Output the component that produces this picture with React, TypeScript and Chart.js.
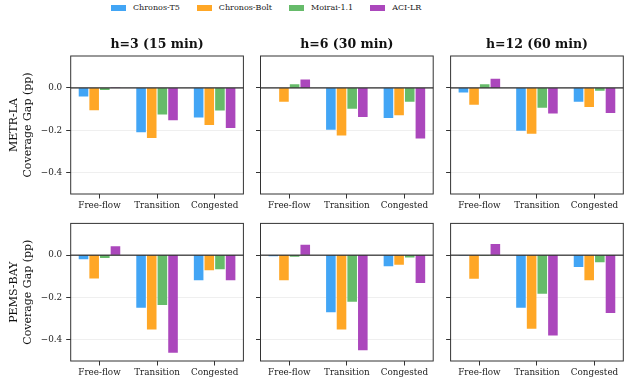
import React, { useEffect, useRef } from 'react';
import { Chart, registerables } from 'chart.js';

Chart.register(...registerables);

// ---- data ----
const categories = ['Free-flow', 'Transition', 'Congested'];
const models = ['Chronos-T5', 'Chronos-Bolt', 'Moirai-1.1', 'ACI-LR'];
const modelColors = ['#42A5F5', '#FFA726', '#66BB6A', '#AB47BC'];
const horizons = ['h=3 (15 min)', 'h=6 (30 min)', 'h=12 (60 min)'];
const networks = ['METR-LA', 'PEMS-BAY'];
const yTickValues = [0, -0.2, -0.4];
const yMin = -0.5;
const yMax = 0.15;

// each panel: one row per model (Chronos-T5, Chronos-Bolt, Moirai-1.1, ACI-LR), values per category
const metrLaH3 = [
  [-0.041, -0.209, -0.140],
  [-0.105, -0.236, -0.175],
  [-0.010, -0.126, -0.107],
  [0.003, -0.153, -0.189],
];
const metrLaH6 = [
  [0.0, -0.197, -0.142],
  [-0.066, -0.224, -0.129],
  [0.017, -0.099, -0.066],
  [0.039, -0.137, -0.239],
];
const metrLaH12 = [
  [-0.022, -0.202, -0.066],
  [-0.080, -0.216, -0.090],
  [0.017, -0.094, -0.014],
  [0.043, -0.121, -0.118],
];
const pemsBayH3 = [
  [-0.019, -0.249, -0.119],
  [-0.110, -0.351, -0.071],
  [-0.014, -0.235, -0.067],
  [0.042, -0.461, -0.118],
];
const pemsBayH6 = [
  [-0.005, -0.270, -0.052],
  [-0.118, -0.351, -0.045],
  [-0.008, -0.220, -0.011],
  [0.049, -0.449, -0.132],
];
const pemsBayH12 = [
  [-0.001, -0.248, -0.056],
  [-0.111, -0.348, -0.118],
  [-0.001, -0.182, -0.033],
  [0.053, -0.380, -0.273],
];
const panelData = [
  [metrLaH3, metrLaH6, metrLaH12],
  [pemsBayH3, pemsBayH6, pemsBayH12],
];

// ---- layout ----
const FONT = "'DejaVu Serif', serif";
const plotLeft = [70.7, 260.5, 450.6];
const plotW = 172.7;
const canvasLeft = [0, 248, 438];
const canvasW = [246, 188, 186];
const plotTop = [56, 223.4];
const canvasTop = [30, 212];
const canvasH = [184, 169];
const xAxisH = 20;

const fmt = (v: number) => {
  const s = Math.abs(v).toFixed(1);
  return v < -1e-9 ? '\u2212' + s : s;
};

function makeFramePlugin(row: number) {
  return {
    id: 'frame' + row,
    afterDatasetsDraw(chart: any) {
      const { ctx, chartArea } = chart;
      const y0 = chart.scales.y.getPixelForValue(0);
      ctx.save();
      ctx.beginPath();
      ctx.strokeStyle = row === 0 ? 'rgba(0,0,0,0.6)' : '#000';
      ctx.lineWidth = row === 0 ? 1.6 : 1;
      ctx.moveTo(chartArea.left, y0);
      ctx.lineTo(chartArea.right, y0);
      ctx.stroke();
      ctx.strokeStyle = '#333';
      ctx.lineWidth = 1;
      ctx.strokeRect(chartArea.left, chartArea.top, chartArea.right - chartArea.left, chartArea.bottom - chartArea.top);
      ctx.restore();
    },
  };
}

function Panel({ row, col }: { row: number; col: number }) {
  const ref = useRef<HTMLCanvasElement>(null);
  const w = canvasW[col];
  const h = canvasH[row];
  useEffect(() => {
    const values = panelData[row][col];
    const axisW = plotLeft[col] - canvasLeft[col];
    const padRight = w - axisW - plotW;
    const padTop = row === 0 ? 0 : plotTop[row] - canvasTop[row];
    const chart = new Chart(ref.current as HTMLCanvasElement, {
      type: 'bar',
      data: {
        labels: categories,
        datasets: models.map((m, i) => ({
          label: m,
          data: values[i],
          backgroundColor: modelColors[i],
          borderWidth: 0,
          barPercentage: 0.9,
          categoryPercentage: 0.74,
        })),
      },
      options: {
        responsive: false,
        animation: false,
        devicePixelRatio: 1,
        layout: { padding: { left: 0, right: padRight, top: padTop, bottom: 0 } },
        plugins: {
          legend: { display: false },
          tooltip: { enabled: false },
          title: {
            display: row === 0,
            text: horizons[col],
            fullSize: false,
            color: '#111',
            font: { family: FONT, size: 12.5, weight: 'bold', lineHeight: 1.2 },
            padding: { top: 6.8, bottom: 4.2 },
          },
        },
        scales: {
          x: {
            offset: true,
            border: { display: false },
            grid: {
              offset: false,
              drawOnChartArea: false,
              drawTicks: true,
              tickLength: 4.5,
              tickColor: '#333',
              tickWidth: 1,
            },
            ticks: {
              font: { family: FONT, size: 8.8 },
              color: '#222',
              padding: 2,
              maxRotation: 0,
              autoSkip: false,
            },
            afterFit: (s: any) => {
              s.height = xAxisH;
            },
          },
          y: {
            min: yMin,
            max: yMax,
            border: { display: false },
            afterBuildTicks: (s: any) => {
              s.ticks = yTickValues.map((v) => ({ value: v }));
            },
            grid: {
              color: '#ebebeb',
              lineWidth: 0.8,
              tickColor: '#333',
              tickLength: 4.5,
              tickWidth: 1,
            },
            ticks: {
              display: col === 0,
              font: { family: FONT, size: 8.8 },
              color: '#222',
              padding: 4,
              callback: (v: any) => fmt(Number(v)),
            },
            title: {
              display: col === 0,
              text: [networks[row], 'Coverage Gap (pp)'],
              color: '#111',
              font: { family: FONT, size: 11, lineHeight: 1.3 },
              padding: { top: 7, bottom: 0 },
            },
            afterFit: (s: any) => {
              s.width = axisW;
            },
          },
        },
      } as any,
      plugins: [makeFramePlugin(row)],
    });
    return () => chart.destroy();
  }, [row, col, w]);
  return (
    <canvas
      ref={ref}
      width={w}
      height={h}
      style={{ position: 'absolute', left: canvasLeft[col], top: canvasTop[row], width: w, height: h }}
    />
  );
}

function Legend() {
  return (
    <div
      style={{
        position: 'absolute',
        left: 111,
        top: 2,
        display: 'flex',
        alignItems: 'center',
        fontFamily: FONT,
        fontSize: 8,
        color: '#222',
        lineHeight: '12px',
        whiteSpace: 'nowrap',
      }}
    >
      {models.map((m, i) => (
        <div key={m} style={{ display: 'flex', alignItems: 'center', marginRight: i < models.length - 1 ? 17 : 0 }}>
          <span style={{ display: 'inline-block', width: 15, height: 5.5, background: modelColors[i], marginRight: 7 }} />
          <span>{m}</span>
        </div>
      ))}
    </div>
  );
}

export default function App() {
  const cells: React.ReactElement[] = [];
  for (let r = 0; r < 2; r++) {
    for (let c = 0; c < 3; c++) {
      cells.push(<Panel key={r + '-' + c} row={r} col={c} />);
    }
  }
  return (
    <div style={{ position: 'absolute', left: 0, top: 0, width: 624, height: 383, background: '#fff', overflow: 'hidden' }}>
      <Legend />
      {cells}
    </div>
  );
}
